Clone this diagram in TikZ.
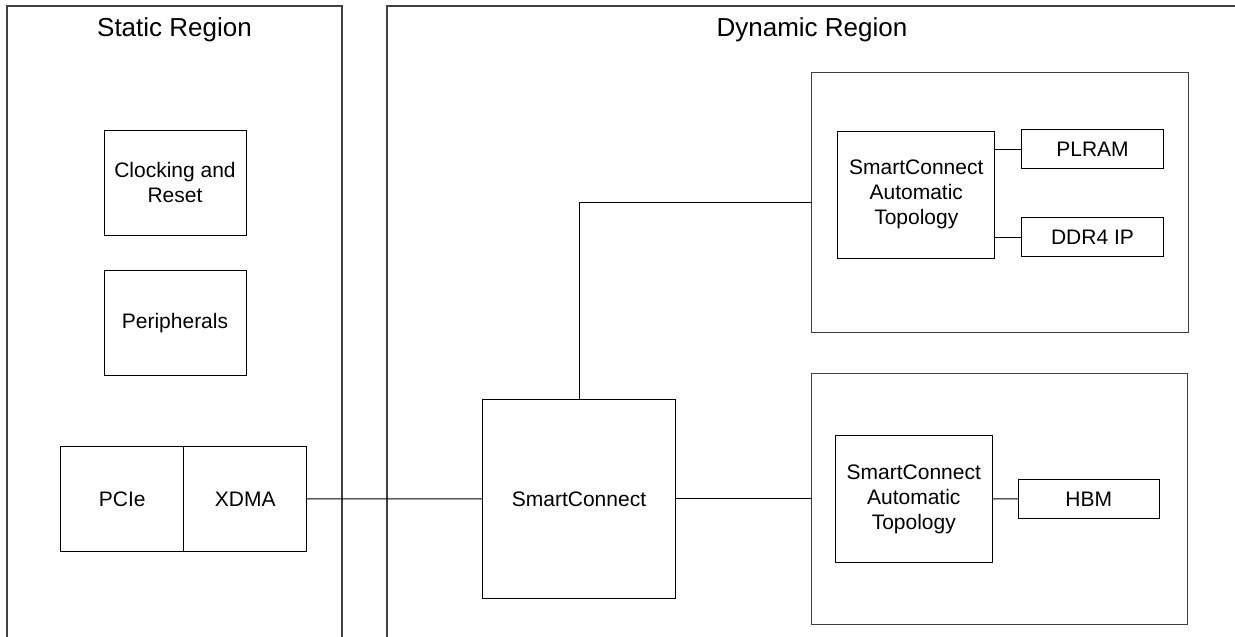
\documentclass[tikz,border=0pt]{standalone}
\usepackage{fontspec}
\setmainfont{Liberation Sans}
\begin{document}
\begin{tikzpicture}[x=1pt,y=-1pt,
  region/.style={draw=black!75,line width=1.3pt},
  box/.style={draw=black,line width=1pt,rectangle,inner sep=0pt,outer sep=0pt,align=center,font=\fontsize{21}{25}\selectfont},
  framebox/.style={draw=black!75,line width=1.2pt,rectangle,inner sep=0pt,outer sep=0pt},
  title/.style={font=\fontsize{26}{30}\selectfont,inner sep=0pt},
  wire/.style={draw=black,line width=1pt}]
\useasboundingbox[fill=white] (0,0) rectangle (1235,637);
% regions
\draw[region] (7,640) -- (7,6) -- (342,6) -- (342,640);
\draw[region] (387,640) -- (387,6) -- (1240,6);
\node[title] (stitle) at (174.5,30) {Static Region};
\node[title] (dtitle) at (812,30) {Dynamic Region};
% static blocks
\node[box,minimum width=142pt,minimum height=105.7pt] (clk) at (175,182.9) {Clocking and\\Reset};
\node[box,minimum width=142pt,minimum height=105.3pt] (per) at (175,323.3) {Peripherals};
\node[box,minimum width=123pt,minimum height=105.7pt] (pcie) at (122.2,498.9) {PCIe};
\node[box,minimum width=123pt,minimum height=105.7pt] (xdma) at (245.2,498.9) {XDMA};
% dynamic blocks
\node[box,minimum width=193.4pt,minimum height=199pt] (sc) at (579,498.8) {SmartConnect};
\node[framebox,minimum width=376.6pt,minimum height=260.4pt] (up) at (1000,202.5) {};
\node[framebox,minimum width=375.6pt,minimum height=251pt] (lo) at (999.5,498.8) {};
\node[box,minimum width=156.7pt,minimum height=127.3pt] (scat1) at (916.3,194.7) {SmartConnect\\Automatic\\Topology};
\node[box,minimum width=141.6pt,minimum height=39.3pt] (plram) at (1092.5,149.3) {PLRAM};
\node[box,minimum width=141.6pt,minimum height=39.3pt] (ddr) at (1092.5,237.3) {DDR4 IP};
\node[box,minimum width=157pt,minimum height=126.6pt] (scat2) at (913.8,499) {SmartConnect\\Automatic\\Topology};
\node[box,minimum width=141pt,minimum height=39pt] (hbm) at (1088.8,498.8) {HBM};
% connectors
\draw[wire] (xdma.east) -- (sc.west);
\draw[wire] (sc.north) |- (up.west);
\draw[wire] (sc.east) -- (lo.west);
\draw[wire] (plram.west) -- (plram.west -| scat1.east);
\draw[wire] (ddr.west) -- (ddr.west -| scat1.east);
\draw[wire] (scat2.east) -- (hbm.west);
\end{tikzpicture}
\end{document}
